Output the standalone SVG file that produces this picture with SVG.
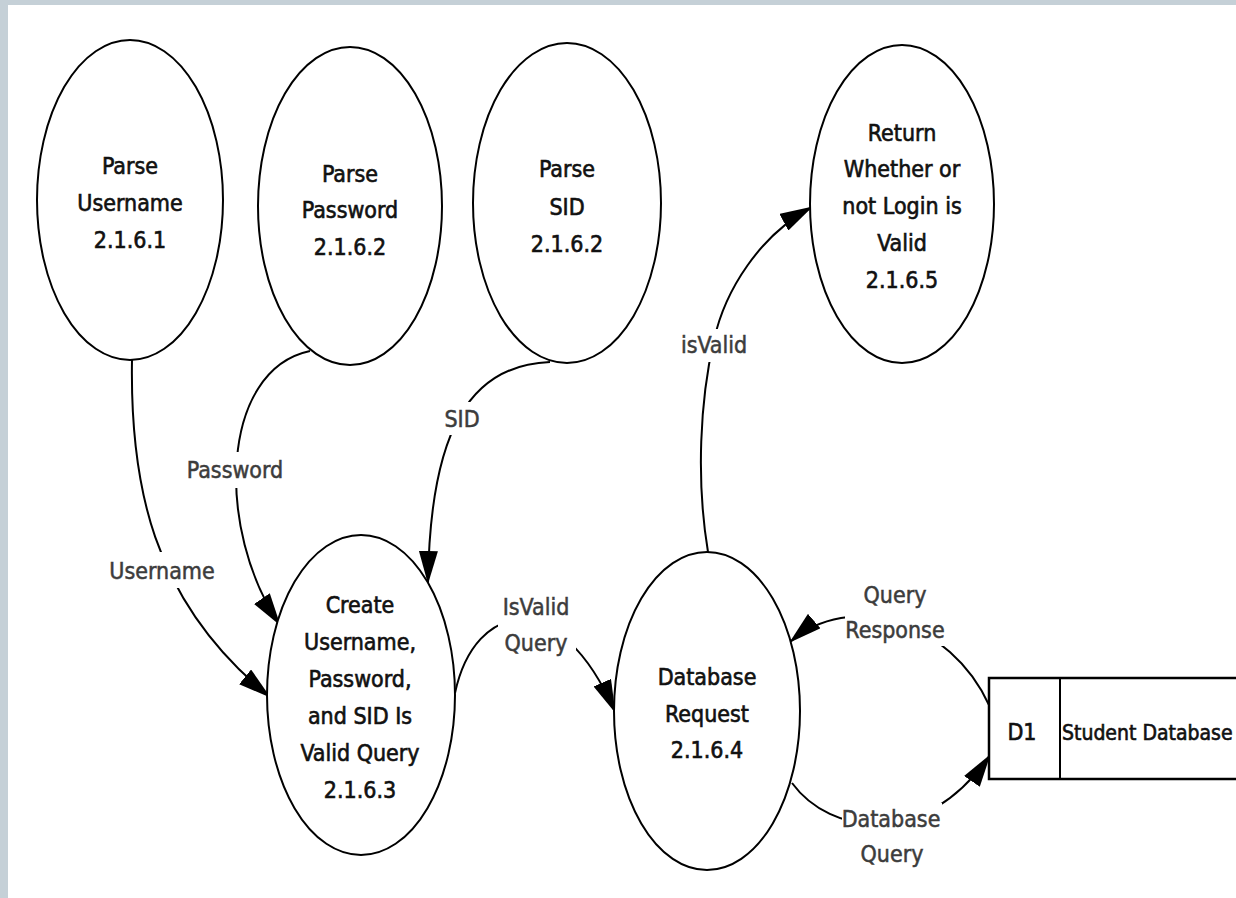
<svg xmlns="http://www.w3.org/2000/svg" width="1236" height="898" viewBox="0 0 1236 898">
<style>
.node ellipse{fill:#fff;stroke:#000;stroke-width:2}
.t{font-family:"DejaVu Sans Condensed","DejaVu Sans",sans-serif;font-stretch:condensed;font-size:23px;text-anchor:middle;fill:#111;stroke:#111;stroke-width:0.6}
.lbl{font-family:"DejaVu Sans Condensed","DejaVu Sans",sans-serif;font-stretch:condensed;font-size:23px;text-anchor:middle;fill:#3c3c3c;stroke:#3c3c3c;stroke-width:0.5}
.edge{fill:none;stroke:#000;stroke-width:2}
.bg{fill:#fff}
</style>
<defs>
<marker id="arr" viewBox="0 0 33 19" refX="32" refY="9.5" markerWidth="33" markerHeight="19" markerUnits="userSpaceOnUse" orient="auto">
<path d="M0,0 L33,9.5 L0,19 z" fill="#000"/>
</marker>
</defs>
<rect x="0" y="0" width="1236" height="898" fill="#fff"/>
<rect x="0" y="0" width="1236" height="5" fill="#c5d0d7"/>
<rect x="0" y="0" width="8" height="898" fill="#c5d0d7"/>

<g id="connectors">
<path class="edge" d="M132,360 C130,480 150,600 270,697" marker-end="url(#arr)"/>
<path class="edge" d="M310,351 C220,370 215,530 280,625" marker-end="url(#arr)"/>
<path class="edge" d="M550,362 C470,365 430,430 428,583" marker-end="url(#arr)"/>
<path class="edge" d="M455,693 C475,600 560,585 615,712" marker-end="url(#arr)"/>
<path class="edge" d="M708,552 C696,480 700,400 714,340 C725,290 760,235 812,207" marker-end="url(#arr)"/>
<path class="edge" d="M989,705 C950,620 850,590 790,642" marker-end="url(#arr)"/>
<path class="edge" d="M792,783 C830,835 925,850 990,755" marker-end="url(#arr)"/>
<rect class="bg" x="110" y="552" width="106" height="36"/>
<rect class="bg" x="184" y="452" width="102" height="36"/>
<rect class="bg" x="442" y="402" width="42" height="33"/>
<rect class="bg" x="680" y="329" width="70" height="33"/>
<rect class="bg" x="498" y="594" width="78" height="66"/>
<rect class="bg" x="845" y="580" width="102" height="66"/>
<rect class="bg" x="842" y="803" width="100" height="68"/>
<text class="lbl" x="162" y="579">Username</text>
<text class="lbl" x="235" y="478">Password</text>
<text class="lbl" x="462" y="427">SID</text>
<text class="lbl" x="714" y="353">isValid</text>
<text class="lbl" x="536" y="615">IsValid</text>
<text class="lbl" x="536" y="651">Query</text>
<text class="lbl" x="895" y="603">Query</text>
<text class="lbl" x="895" y="638">Response</text>
<text class="lbl" x="891" y="827">Database</text>
<text class="lbl" x="892" y="862">Query</text>
</g>

<g id="n1" class="node">
<ellipse cx="130" cy="200" rx="93" ry="160"/>
<text class="t" x="130" y="174">Parse</text>
<text class="t" x="130" y="211">Username</text>
<text class="t" x="130" y="248">2.1.6.1</text>
</g>
<g id="n2" class="node">
<ellipse cx="350" cy="206" rx="92" ry="159"/>
<text class="t" x="350" y="182">Parse</text>
<text class="t" x="350" y="218">Password</text>
<text class="t" x="350" y="255">2.1.6.2</text>
</g>
<g id="n3" class="node">
<ellipse cx="567" cy="203" rx="94" ry="160"/>
<text class="t" x="567" y="177">Parse</text>
<text class="t" x="567" y="215">SID</text>
<text class="t" x="567" y="252">2.1.6.2</text>
</g>
<g id="n5" class="node">
<ellipse cx="902" cy="204" rx="92" ry="159"/>
<text class="t" x="902" y="141">Return</text>
<text class="t" x="902" y="177">Whether or</text>
<text class="t" x="902" y="214">not Login is</text>
<text class="t" x="902" y="251">Valid</text>
<text class="t" x="902" y="288">2.1.6.5</text>
</g>
<g id="n4" class="node">
<ellipse cx="361" cy="695" rx="94" ry="160"/>
<text class="t" x="360" y="613">Create</text>
<text class="t" x="360" y="650">Username,</text>
<text class="t" x="360" y="687">Password,</text>
<text class="t" x="360" y="724">and SID Is</text>
<text class="t" x="360" y="761">Valid Query</text>
<text class="t" x="360" y="798">2.1.6.3</text>
</g>
<g id="n6" class="node">
<ellipse cx="707" cy="711" rx="93" ry="159"/>
<text class="t" x="707" y="685">Database</text>
<text class="t" x="707" y="722">Request</text>
<text class="t" x="707" y="758">2.1.6.4</text>
</g>
<g id="d1">
<path d="M1236,678 H989 V779 H1236" fill="#fff" stroke="#000" stroke-width="2.5"/>
<line x1="1060" y1="678" x2="1060" y2="779" stroke="#000" stroke-width="2"/>
<text class="t" x="1022" y="740">D1</text>
<text class="t" x="1062" y="740" style="text-anchor:start;font-size:21px">Student Database</text>
</g>
</svg>
